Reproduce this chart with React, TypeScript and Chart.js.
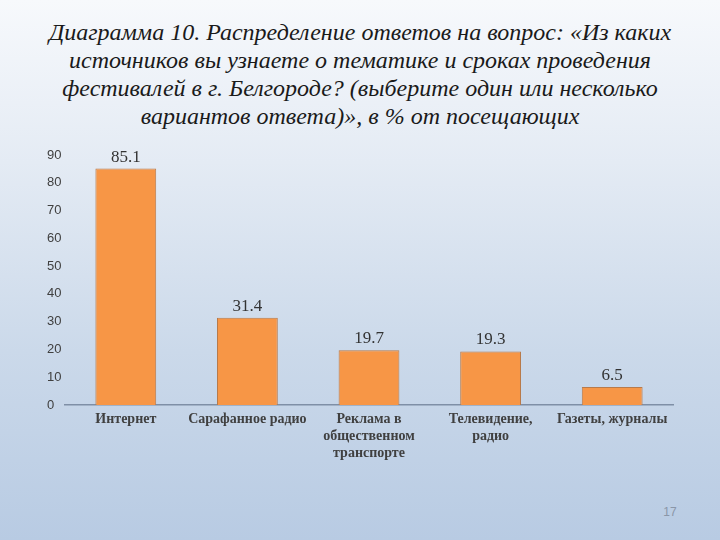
import React, { useEffect, useRef } from "react";
import { Chart, registerables } from "chart.js";

Chart.register(...registerables);

const categories: (string | string[])[] = [
  "Интернет",
  "Сарафанное радио",
  ["Реклама в", "общественном", "транспорте"],
  ["Телевидение,", "радио"],
  "Газеты, журналы",
];
const values = [85.1, 31.4, 19.7, 19.3, 6.5];
const valueLabels = ["85.1", "31.4", "19.7", "19.3", "6.5"];
const titleLines = [
  "Диаграмма 10. Распределение ответов на вопрос: «Из каких",
  "источников вы узнаете о тематике и сроках проведения",
  "фестивалей в г. Белгороде? (выберите один или несколько",
  "вариантов ответа)», в % от посещающих",
];
const pageNumber = "17";

const valueLabelPlugin = {
  id: "valueLabels",
  afterDatasetsDraw(chart: any) {
    const ctx = chart.ctx;
    const meta = chart.getDatasetMeta(0);
    ctx.save();
    ctx.font = "17px 'Liberation Serif'";
    ctx.fillStyle = "#333333";
    ctx.textAlign = "center";
    ctx.textBaseline = "bottom";
    meta.data.forEach((bar: any, i: number) => {
      ctx.fillText(valueLabels[i], bar.x, bar.y - 3);
    });
    ctx.restore();
  },
};

export default function App() {
  const ref = useRef<HTMLCanvasElement>(null);
  useEffect(() => {
    if (!ref.current) return;
    const chart = new Chart(ref.current, {
      type: "bar",
      data: {
        labels: categories,
        datasets: [
          {
            data: values,
            backgroundColor: "#f79646",
            borderColor: "#b87a4a",
            borderWidth: 1,
            categoryPercentage: 1,
            barPercentage: 0.5,
          },
        ],
      },
      options: {
        responsive: false,
        animation: false,
        maintainAspectRatio: false,
        layout: { padding: { left: 47, right: 47, top: 15, bottom: 0 } },
        plugins: {
          legend: { display: false },
          tooltip: { enabled: false },
          title: { display: false },
        },
        scales: {
          x: {
            grid: { display: false, drawTicks: false },
            border: { display: true, color: "#7f8fa6", width: 1.5 },
            ticks: {
              color: "#404040",
              font: { family: "'Liberation Serif'", size: 14, weight: "bold", lineHeight: 1.2 },
              padding: 6,
              maxRotation: 0,
              autoSkip: false,
            },
            afterFit: (s: any) => {
              s.height = 65;
            },
          },
          y: {
            min: 0,
            max: 90,
            grid: { display: false, drawTicks: false },
            border: { display: false },
            ticks: {
              stepSize: 10,
              color: "#404040",
              font: { family: "'Liberation Sans'", size: 13 },
              crossAlign: "far",
              padding: 4,
            },
            afterFit: (s: any) => {
              s.width = 18;
            },
          },
        },
      },
      plugins: [valueLabelPlugin],
    });
    return () => chart.destroy();
  }, []);

  return (
    <div
      style={{
        position: "fixed",
        left: 0,
        top: 0,
        width: 720,
        height: 540,
        overflow: "hidden",
        background:
          "linear-gradient(180deg, #f7f9fc 0%, #e4ebf4 30%, #cbd9ea 65%, #b8cbe3 100%)",
      }}
    >
      <div
        style={{
          position: "absolute",
          left: 0,
          top: 18,
          width: 720,
          textAlign: "center",
          fontFamily: "'Liberation Serif'",
          fontStyle: "italic",
          fontSize: 24,
          lineHeight: "28px",
          color: "#1a1a1a",
        }}
      >
        {titleLines.map((l, i) => (
          <div key={i}>{l}</div>
        ))}
      </div>
      <canvas
        ref={ref}
        width={720}
        height={330}
        style={{ position: "absolute", left: 0, top: 140, width: 720, height: 330 }}
      />
      <div
        style={{
          position: "absolute",
          left: 650,
          top: 505,
          width: 40,
          textAlign: "center",
          fontFamily: "'Liberation Sans'",
          fontSize: 12,
          color: "#8a96a8",
        }}
      >
        {pageNumber}
      </div>
    </div>
  );
}
